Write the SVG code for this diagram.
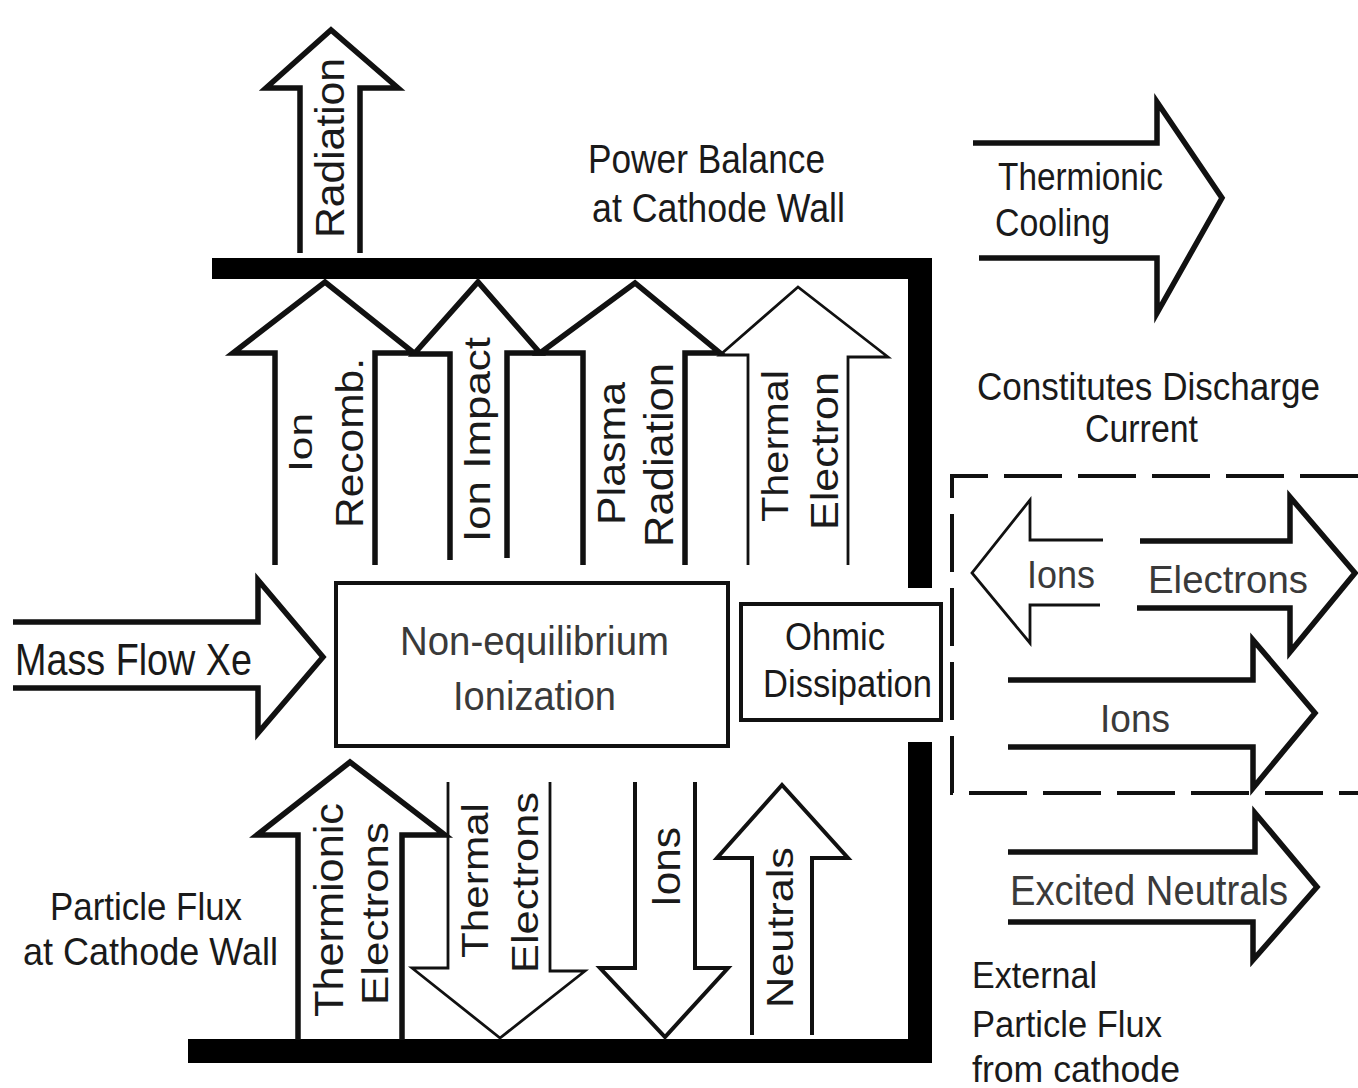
<svg xmlns="http://www.w3.org/2000/svg" width="1358" height="1088" viewBox="0 0 1358 1088">
<style>
.bg{fill:#ffffff}
.wall{fill:#000000}
.ar{fill:none;stroke:#111;stroke-width:5.5;stroke-linejoin:miter;stroke-miterlimit:10}
.thin{stroke-width:2.8}
.mid{stroke-width:4}
.box{fill:#ffffff;stroke:#111;stroke-width:4}
.dash{fill:none;stroke:#111;stroke-width:4;stroke-dasharray:58 16}
text{font-family:"Liberation Sans",Arial,sans-serif;fill:#1a1a1a}
.g{fill:#3a3a3a}
</style>
<rect class="bg" x="0" y="0" width="1358" height="1088"/>

<g id="walls">
  <rect class="wall" x="212" y="258" width="720" height="21"/>
  <rect class="wall" x="908" y="258" width="24" height="330"/>
  <rect class="wall" x="908" y="742" width="24" height="321"/>
  <rect class="wall" x="188" y="1039" width="744" height="24"/>
</g>

<g id="connectors">
  <path class="ar" d="M300,253 V88 H266 L331,30 L398,88 H360 V253"/>
  <path class="ar" d="M275,565 V353 H233 L325,282 L414,353 H375 V565"/>
  <path class="ar" d="M450,560 V354 H414 L478,282 L540,353 H507 V558"/>
  <path class="ar" d="M583,565 V353 H540 L635,283 L720,353 H685 V565"/>
  <path class="ar thin" d="M748,565 V355 H720 L798,287 L888,357 H848 V565"/>
  <path class="ar" d="M298,1040 V835 H257 L350,762 L445,835 H402 V1040"/>
  <path class="ar thin" d="M448,782 V968 H412 L500,1038 L585,971 H550 V782"/>
  <path class="ar mid" d="M635,782 V968 H600 L665,1037 L728,968 H695 V782"/>
  <path class="ar mid" d="M752,1035 V858 H717 L782,785 L848,858 H812 V1035"/>
  <path class="ar" d="M13,622 H258 V580 L323,657 L258,733 V688 H13"/>
  <path class="ar" d="M973,143 H1157 V102 L1222,198 L1157,313 V258 H979"/>
  <path class="ar thin" d="M1103,540 H1030 V500 L972,573 L1030,643 V605 H1100"/>
  <path class="ar" d="M1140,541 H1290 V497 L1355,573 L1290,652 V608 H1137"/>
  <path class="ar" d="M1008,680 H1253 V640 L1315,713 L1253,788 V747 H1008"/>
  <path class="ar" d="M1008,852 H1255 V813 L1317,887 L1253,960 V922 H1008"/>
  <path class="dash" d="M1358,476 H952 V793 H1358"/>
</g>

<g id="node-ionization">
  <rect class="box" x="336" y="583" width="392" height="163"/>
  <text class="g" x="400" y="655" font-size="41" textLength="269" lengthAdjust="spacingAndGlyphs">Non-equilibrium</text>
  <text class="g" x="453" y="710" font-size="41" textLength="163" lengthAdjust="spacingAndGlyphs">Ionization</text>
</g>
<g id="node-ohmic">
  <rect class="box" x="741" y="604" width="200" height="116"/>
  <text x="785" y="650" font-size="38" textLength="100" lengthAdjust="spacingAndGlyphs">Ohmic</text>
  <text x="763" y="697" font-size="38" textLength="169" lengthAdjust="spacingAndGlyphs">Dissipation</text>
</g>

<g id="labels-top">
  <text x="588" y="173" font-size="41" textLength="237" lengthAdjust="spacingAndGlyphs">Power Balance</text>
  <text x="592" y="222" font-size="41" textLength="253" lengthAdjust="spacingAndGlyphs">at Cathode Wall</text>
  <text x="998" y="190" font-size="39" textLength="165" lengthAdjust="spacingAndGlyphs">Thermionic</text>
  <text x="995" y="236" font-size="39" textLength="115" lengthAdjust="spacingAndGlyphs">Cooling</text>
  <text x="977" y="400" font-size="38" textLength="343" lengthAdjust="spacingAndGlyphs">Constitutes Discharge</text>
  <text x="1085" y="442" font-size="38" textLength="113" lengthAdjust="spacingAndGlyphs">Current</text>
</g>

<g id="labels-left">
  <text x="15" y="675" font-size="45" textLength="237" lengthAdjust="spacingAndGlyphs">Mass Flow Xe</text>
  <text x="50" y="920" font-size="39" textLength="192" lengthAdjust="spacingAndGlyphs">Particle Flux</text>
  <text x="23" y="965" font-size="39" textLength="255" lengthAdjust="spacingAndGlyphs">at Cathode Wall</text>
</g>

<g id="labels-right">
  <text class="g" x="1027" y="588" font-size="38" textLength="68" lengthAdjust="spacingAndGlyphs">Ions</text>
  <text class="g" x="1148" y="593" font-size="38" textLength="160" lengthAdjust="spacingAndGlyphs">Electrons</text>
  <text class="g" x="1100" y="732" font-size="38" textLength="70" lengthAdjust="spacingAndGlyphs">Ions</text>
  <text class="g" x="1010" y="905" font-size="42" textLength="278" lengthAdjust="spacingAndGlyphs">Excited Neutrals</text>
  <text x="972" y="988" font-size="36" textLength="125" lengthAdjust="spacingAndGlyphs">External</text>
  <text x="972" y="1037" font-size="36" textLength="190" lengthAdjust="spacingAndGlyphs">Particle Flux</text>
  <text x="972" y="1082" font-size="36" textLength="208" lengthAdjust="spacingAndGlyphs">from cathode</text>
</g>

<g id="labels-vertical">
  <text transform="translate(344,238) rotate(-90)" font-size="40" textLength="180" lengthAdjust="spacingAndGlyphs">Radiation</text>
  <text transform="translate(312,472) rotate(-90)" font-size="34" textLength="59" lengthAdjust="spacingAndGlyphs">Ion</text>
  <text transform="translate(363,528) rotate(-90)" font-size="38" textLength="170" lengthAdjust="spacingAndGlyphs">Recomb.</text>
  <text transform="translate(490,542) rotate(-90)" font-size="36" textLength="205" lengthAdjust="spacingAndGlyphs">Ion Impact</text>
  <text transform="translate(625,525) rotate(-90)" font-size="38" textLength="143" lengthAdjust="spacingAndGlyphs">Plasma</text>
  <text transform="translate(673,547) rotate(-90)" font-size="40" textLength="184" lengthAdjust="spacingAndGlyphs">Radiation</text>
  <text transform="translate(788,522) rotate(-90)" font-size="36" textLength="152" lengthAdjust="spacingAndGlyphs">Thermal</text>
  <text transform="translate(838,530) rotate(-90)" font-size="38" textLength="158" lengthAdjust="spacingAndGlyphs">Electron</text>
  <text transform="translate(343,1017) rotate(-90)" font-size="40" textLength="214" lengthAdjust="spacingAndGlyphs">Thermionic</text>
  <text transform="translate(388,1005) rotate(-90)" font-size="36" textLength="183" lengthAdjust="spacingAndGlyphs">Electrons</text>
  <text transform="translate(488,958) rotate(-90)" font-size="36" textLength="155" lengthAdjust="spacingAndGlyphs">Thermal</text>
  <text transform="translate(538,973) rotate(-90)" font-size="36" textLength="181" lengthAdjust="spacingAndGlyphs">Electrons</text>
  <text transform="translate(680,907) rotate(-90)" font-size="40" textLength="80" lengthAdjust="spacingAndGlyphs">Ions</text>
  <text transform="translate(793,1008) rotate(-90)" font-size="36" textLength="161" lengthAdjust="spacingAndGlyphs">Neutrals</text>
</g>
</svg>
